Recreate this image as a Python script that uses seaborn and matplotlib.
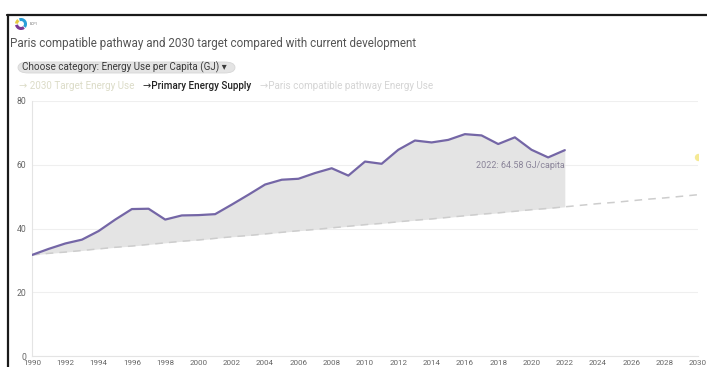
import matplotlib
matplotlib.use("Agg")
import matplotlib.pyplot as plt
import seaborn as sns
from matplotlib.lines import Line2D
from matplotlib.patches import Arc, FancyBboxPatch

# data
years = list(range(1990, 2023))
primary_supply = [31.7, 33.6, 35.3, 36.5, 39.2, 42.8, 46.1, 46.2, 42.8, 44.1,
                  44.2, 44.5, 47.5, 50.6, 53.8, 55.3, 55.6, 57.4, 58.9, 56.6,
                  61.0, 60.3, 64.7, 67.6, 67.0, 67.8, 69.6, 69.2, 66.5, 68.6,
                  64.7, 62.3, 64.58]
pathway_years = list(range(1990, 2031))
pathway = [31.7, 32.2, 32.6, 33.1, 33.6, 34.1, 34.5, 35.0, 35.5, 36.0,
           36.4, 36.9, 37.4, 37.8, 38.3, 38.8, 39.3, 39.7, 40.2, 40.7,
           41.2, 41.6, 42.1, 42.6, 43.0, 43.5, 44.0, 44.5, 44.9, 45.4,
           45.9, 46.3, 46.8, 47.3, 47.8, 48.2, 48.7, 49.2, 49.6, 50.1, 50.6]
target_year = [2030]
target_value = [62.5]
xticks = list(range(1990, 2031, 2))
yticks = [0, 20, 40, 60, 80]

W, H = 707, 367
sns.set_style("white")
plt.rcParams["font.family"] = ["Roboto", "DejaVu Sans"]


def fp(x, y):
    return x / W, 1 - y / H


fig = plt.figure(figsize=(W / 100, H / 100), dpi=100)
ax = fig.add_axes([32 / W, 11 / H, (698 - 32) / W, (356 - 101) / H])

ax.fill_between(years, primary_supply, pathway[:len(years)], color="#e4e4e4", lw=0, zorder=1)
sns.lineplot(x=pathway_years, y=pathway, ax=ax, color="#cdcdcd", lw=1.1, zorder=2)
ax.lines[-1].set_linestyle((0, (5, 4)))
sns.lineplot(x=years, y=primary_supply, ax=ax, color="#7466a6", lw=1.6, zorder=3)
ax.scatter(target_year, target_value, s=28, color="#f3e47a", alpha=0.8, lw=0, zorder=3)

ax.text(years[-1], 59.7, "2022: 64.58 GJ/capita", ha="right", va="center",
        fontsize=6.5, color="#8a8499")

ax.set_xlim(1990, 2030)
ax.set_ylim(0, 80)
ax.set_xticks(xticks)
ax.set_yticks(yticks)
ax.grid(axis="y", color="#efefef", lw=0.8)
ax.set_axisbelow(True)
for s in ["top", "right"]:
    ax.spines[s].set_visible(False)
for s in ["left", "bottom"]:
    ax.spines[s].set_color("#e4e4e4")
    ax.spines[s].set_linewidth(0.8)
ax.tick_params(axis="x", length=0, pad=3, labelsize=5.8, labelcolor="#666666")
ax.tick_params(axis="y", length=0, pad=4, labelsize=6.2, labelcolor="#666666")
ax.set_xlabel("")
ax.set_ylabel("")

# header
fig.text(*fp(10, 43), "Paris compatible pathway and 2030 target compared with current development",
         fontsize=8.4, color="#555555", va="center", ha="left")
pill = FancyBboxPatch(fp(18, 73), 217 / W, 11 / H, boxstyle="round,pad=0,rounding_size=0.015",
                      transform=fig.transFigure, fc="#e4e4e4", ec="#d6d6d6", lw=0.6)
fig.add_artist(pill)
fig.text(*fp(22, 67.5), "Choose category: Energy Use per Capita (GJ) \u25be",
         fontsize=7.1, color="#3a3a3a", va="center", ha="left")

fig.text(*fp(19, 86), "\u2192 2030 Target Energy Use", fontsize=7.1, color="#dcdcc8", va="center")
fig.text(*fp(143, 86), "\u2192Primary Energy Supply", fontsize=7.1, color="#222222",
         va="center", fontweight="medium")
fig.text(*fp(260, 86), "\u2192Paris compatible pathway Energy Use", fontsize=7.1,
         color="#d4d4d4", va="center")

# logo
lax = fig.add_axes([15 / W, 1 - 30 / H, 12 / W, 12 / H])
lax.set_xlim(-1.2, 1.2)
lax.set_ylim(-1.2, 1.2)
lax.set_aspect("equal")
lax.axis("off")
lax.add_patch(Arc((0, 0), 1.8, 1.8, theta1=-40, theta2=110, color="#2a9fd8", lw=2.2))
lax.add_patch(Arc((0, 0), 1.8, 1.8, theta1=190, theta2=310, color="#7b3a95", lw=2.2))
lax.add_patch(Arc((0, 0), 1.8, 1.8, theta1=125, theta2=175, color="#e6c940", lw=2.2))
fig.text(*fp(30, 24), "ECPI", fontsize=2.6, color="#777777", va="center")

# screenshot frame
fig.add_artist(Line2D([7 / W, 1], [1 - 14.5 / H, 1 - 14.5 / H], color="#1a1a1a", lw=1.6,
                      transform=fig.transFigure))
fig.add_artist(Line2D([7.5 / W, 7.5 / W], [0, 1 - 14.5 / H], color="#1a1a1a", lw=1.6,
                      transform=fig.transFigure))

fig.savefig("out.png", dpi=100, facecolor="white")
